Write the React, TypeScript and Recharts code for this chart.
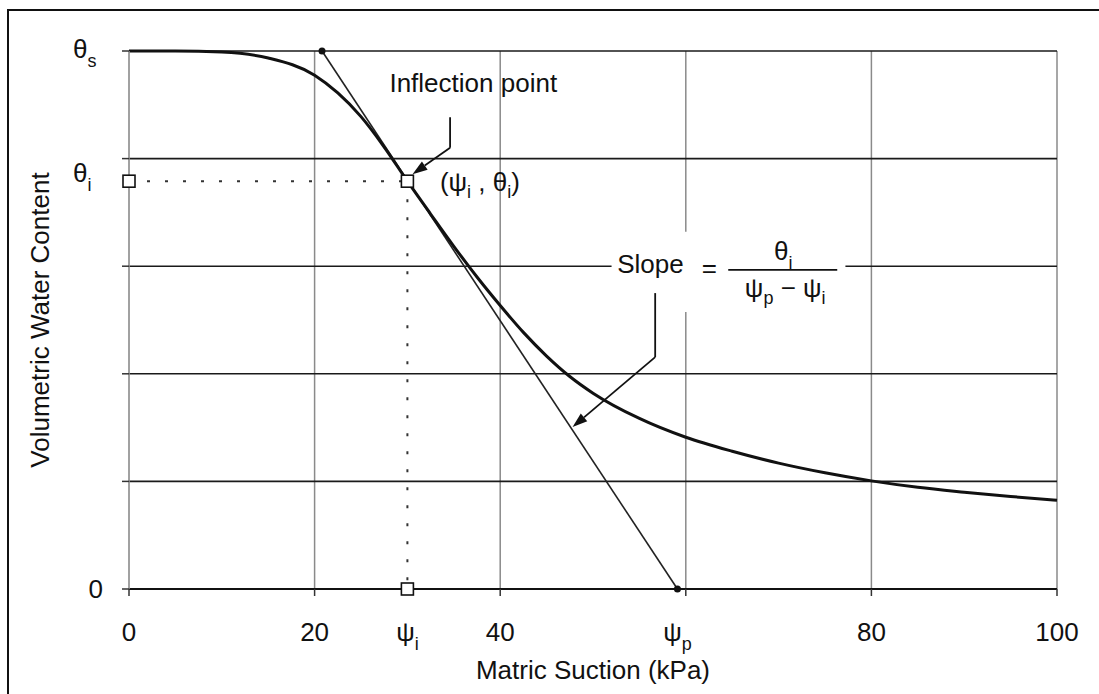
import React from "react"
import {
  CartesianGrid,
  ComposedChart,
  Line,
  ReferenceArea,
  ReferenceDot,
  ReferenceLine,
  XAxis,
  YAxis,
} from "recharts"

// soil-water characteristic curve
const suction = [0, 5, 10, 15, 20, 22.5, 25, 27.5, 30, 32.5, 35, 37.5, 40, 42.5, 45, 47.5, 50, 55, 60, 65, 70, 75, 80, 85, 90, 95, 100]
const waterContent = [
  1, 1, 0.998, 0.987, 0.955, 0.922, 0.878, 0.8215, 0.758, 0.697, 0.637, 0.58, 0.527, 0.477, 0.433, 0.395, 0.364,
  0.317, 0.282, 0.256, 0.234, 0.216, 0.201, 0.189, 0.18, 0.172, 0.165,
]

const gridX = [20, 40, 60, 80, 100]
const gridY = [0.2, 0.4, 0.6, 0.8, 1]

const PSI_I = 30
const THETA_I = 0.758
const THETA_S = 1
const PSI_P = 59.1
const TANGENT_TOP = 20.8

const xTicks = [0, 20, PSI_I, 40, PSI_P, 60, 80, 100]
const yTicks = [0, 0.2, 0.4, 0.6, THETA_I, 0.8, 1]

// leader lines of the two callouts, [x, y] in data units
const inflectionLeader = [[34.6, 0.877], [34.6, 0.82], [30.55, 0.771]]
const slopeLeader = [[56.7, 0.55], [56.7, 0.431], [47.8, 0.301]]
const inflectionLabel = [37.1, 0.924]
const pointLabel = [33.5, 0.74]
const formulaAnchor = [70.5, 0.593]
const formulaBox = { x: [52, 77.2], y: [0.515, 0.664] }

const curve = suction.map((s, i) => ({ suction: s, theta: waterContent[i] }))

const font = "'Liberation Sans', Arial, Helvetica, sans-serif"
const ink = "#111"
const FS = 26

function Sym({ main, sub }: { main: string; sub: string }) {
  return (
    <>
      <tspan>{main}</tspan>
      <tspan fontSize={18} dy={9}>
        {sub}
      </tspan>
    </>
  )
}

function XTick({ x, y, payload }: any) {
  const v = payload.value
  const major = v % 20 === 0
  let label: React.ReactNode = null
  if (v === PSI_I) label = <Sym main="ψ" sub="i" />
  else if (v === PSI_P) label = <Sym main="ψ" sub="p" />
  else if (v !== 60) label = String(v)
  return (
    <g>
      {major && <line x1={x} x2={x} y1={y} y2={y + 7} stroke="#333" strokeWidth={1.5} />}
      {label != null && (
        <text x={x} y={y + 52} textAnchor="middle" fontSize={FS} fontFamily={font} fill={ink}>
          {label}
        </text>
      )}
    </g>
  )
}

function YTick({ x, y, payload }: any) {
  const v = payload.value
  const grid = gridY.includes(v) || v === 0
  return (
    <g>
      {grid && <line x1={x - 7} x2={x} y1={y} y2={y} stroke="#333" strokeWidth={1.5} />}
      {v === 0 && (
        <text x={x - 26} y={y + 9} textAnchor="end" fontSize={FS} fontFamily={font} fill={ink}>
          0
        </text>
      )}
      {v === THETA_S && (
        <text x={x - 56} y={y + 7} fontSize={FS} fontFamily={font} fill={ink}>
          <Sym main="θ" sub="s" />
        </text>
      )}
      {v === THETA_I && (
        <text x={x - 56} y={y + 1} fontSize={FS} fontFamily={font} fill={ink}>
          <Sym main="θ" sub="i" />
        </text>
      )}
    </g>
  )
}

function Square({ cx, cy }: any) {
  return <rect x={cx - 6} y={cy - 6} width={12} height={12} fill="#fff" stroke={ink} strokeWidth={1.6} />
}

function Arrow({ x1, y1, x2, y2 }: any) {
  const a = Math.atan2(y2 - y1, x2 - x1)
  const len = 15
  const half = 5
  const bx = x2 - len * Math.cos(a)
  const by = y2 - len * Math.sin(a)
  const px = -Math.sin(a) * half
  const py = Math.cos(a) * half
  return (
    <g>
      <line x1={x1} y1={y1} x2={bx} y2={by} stroke={ink} strokeWidth={1.8} />
      <polygon points={`${x2},${y2} ${bx + px},${by + py} ${bx - px},${by - py}`} fill={ink} />
    </g>
  )
}

function InflectionText({ cx, cy }: any) {
  return (
    <text x={cx} y={cy} textAnchor="middle" fontSize={FS} fontFamily={font} fill={ink}>
      Inflection point
    </text>
  )
}

function PointText({ cx, cy }: any) {
  return (
    <text x={cx} y={cy} fontSize={FS} fontFamily={font} fill={ink}>
      <tspan>(ψ</tspan>
      <tspan fontSize={18} dy={7}>i</tspan>
      <tspan dy={-7}> , θ</tspan>
      <tspan fontSize={18} dy={7}>i</tspan>
      <tspan dy={-7}>)</tspan>
    </text>
  )
}

function FormulaText({ cx, cy }: any) {
  return (
    <g fontFamily={font} fontSize={FS} fill={ink}>
      <text x={cx - 166} y={cy + 3}>Slope</text>
      <text x={cx - 74} y={cy + 7} textAnchor="middle">=</text>
      <text x={cx} y={cy - 10} textAnchor="middle">
        <Sym main="θ" sub="i" />
      </text>
      <line x1={cx - 55} x2={cx + 54} y1={cy} y2={cy} stroke={ink} strokeWidth={1.8} />
      <text x={cx + 2} y={cy + 27} textAnchor="middle">
        <tspan>ψ</tspan>
        <tspan fontSize={18} dy={7}>p</tspan>
        <tspan dy={-7}> − ψ</tspan>
        <tspan fontSize={18} dy={7}>i</tspan>
      </text>
    </g>
  )
}

function XTitle({ viewBox }: any) {
  return (
    <text
      x={viewBox.x + viewBox.width / 2}
      y={viewBox.y + 90}
      textAnchor="middle"
      fontSize={FS}
      fontFamily={font}
      fill={ink}
    >
      Matric Suction (kPa)
    </text>
  )
}

function YTitle({ viewBox }: any) {
  const x = 49
  const y = viewBox.y + viewBox.height / 2
  return (
    <text x={x} y={y} transform={`rotate(-90 ${x} ${y})`} textAnchor="middle" fontSize={FS} fontFamily={font} fill={ink}>
      Volumetric Water Content
    </text>
  )
}

function seg(points: number[][]) {
  return points.slice(0, -1).map((p, i) => [
    { x: p[0], y: p[1] },
    { x: points[i + 1][0], y: points[i + 1][1] },
  ])
}

export default function App() {
  const inflSegs = seg(inflectionLeader)
  const slopeSegs = seg(slopeLeader)
  return (
    <div style={{ position: "fixed", left: 0, top: 0, width: 1099, height: 694, background: "#fff" }}>
      <div
        style={{
          position: "absolute",
          left: 7,
          top: 9,
          width: 1100,
          height: 700,
          borderLeft: "2px solid #111",
          borderTop: "2px solid #111",
        }}
      />
      <div style={{ position: "absolute", left: 0, top: 0 }}>
        <ComposedChart width={1099} height={694} data={curve} margin={{ top: 51, right: 42, bottom: 0, left: 0 }}>
          <CartesianGrid horizontal={false} verticalValues={gridX} stroke="#8a8a8a" strokeWidth={1.5} />
          <CartesianGrid vertical={false} horizontalValues={gridY} stroke="#1a1a1a" strokeWidth={1.6} />
          <XAxis
            dataKey="suction"
            type="number"
            domain={[0, 100]}
            ticks={xTicks}
            interval={0}
            tickLine={false}
            tickSize={0}
            tickMargin={0}
            height={105}
            axisLine={{ stroke: ink, strokeWidth: 2 }}
            tick={<XTick />}
            label={{ content: <XTitle /> }}
          />
          <YAxis
            type="number"
            domain={[0, 1]}
            ticks={yTicks}
            interval={0}
            tickLine={false}
            tickSize={0}
            tickMargin={0}
            width={129}
            axisLine={{ stroke: "#8a8a8a", strokeWidth: 1.6 }}
            tick={<YTick />}
            label={{ content: <YTitle /> }}
          />
          <ReferenceArea
            x1={formulaBox.x[0]}
            x2={formulaBox.x[1]}
            y1={formulaBox.y[0]}
            y2={formulaBox.y[1]}
            fill="#fff"
            fillOpacity={1}
            stroke="none"
          />
          <ReferenceLine
            segment={[
              { x: 0, y: THETA_I },
              { x: PSI_I, y: THETA_I },
            ]}
            stroke="#333"
            strokeWidth={2}
            strokeDasharray="3 15"
          />
          <ReferenceLine
            segment={[
              { x: PSI_I, y: THETA_I },
              { x: PSI_I, y: 0 },
            ]}
            stroke="#333"
            strokeWidth={2}
            strokeDasharray="3 15"
          />
          <ReferenceLine
            segment={[
              { x: TANGENT_TOP, y: THETA_S },
              { x: PSI_P, y: 0 },
            ]}
            stroke="#222"
            strokeWidth={1.6}
          />
          <ReferenceLine segment={inflSegs[0]} stroke={ink} strokeWidth={1.8} />
          <ReferenceLine segment={inflSegs[1]} shape={<Arrow />} />
          <ReferenceLine segment={slopeSegs[0]} stroke={ink} strokeWidth={1.8} />
          <ReferenceLine segment={slopeSegs[1]} shape={<Arrow />} />
          <Line
            type="monotone"
            dataKey="theta"
            stroke={ink}
            strokeWidth={3}
            dot={false}
            activeDot={false}
            isAnimationActive={false}
          />
          <ReferenceDot x={TANGENT_TOP} y={THETA_S} r={3.5} fill={ink} stroke="none" />
          <ReferenceDot x={PSI_P} y={0} r={3.5} fill={ink} stroke="none" />
          <ReferenceDot x={PSI_I} y={THETA_I} r={6} shape={<Square />} />
          <ReferenceDot x={0} y={THETA_I} r={6} shape={<Square />} />
          <ReferenceDot x={PSI_I} y={0} r={6} shape={<Square />} />
          <ReferenceDot x={inflectionLabel[0]} y={inflectionLabel[1]} r={1} shape={<InflectionText />} />
          <ReferenceDot x={pointLabel[0]} y={pointLabel[1]} r={1} shape={<PointText />} />
          <ReferenceDot x={formulaAnchor[0]} y={formulaAnchor[1]} r={1} shape={<FormulaText />} />
        </ComposedChart>
      </div>
    </div>
  )
}
